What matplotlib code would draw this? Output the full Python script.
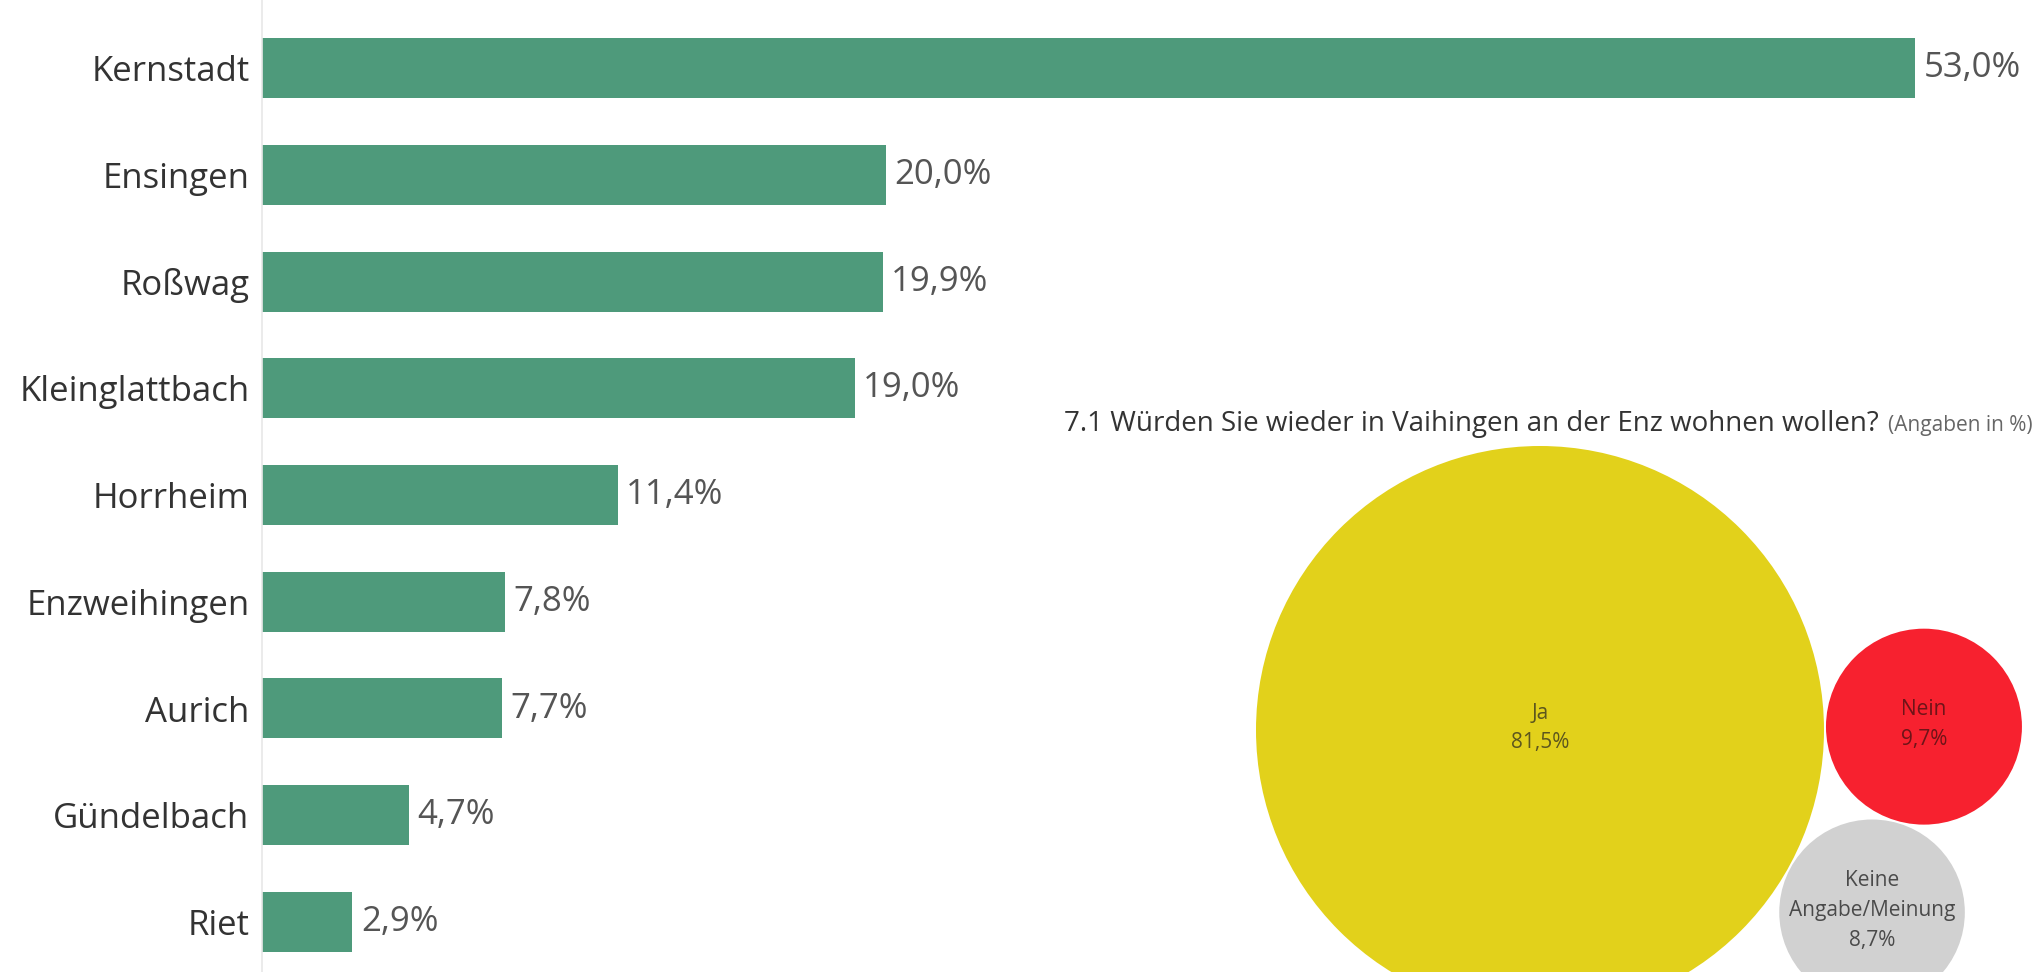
import numpy as np
import matplotlib
matplotlib.use("Agg")
import matplotlib.pyplot as plt
from matplotlib.patches import Circle

# ── Data ─────────────────────────────────────────────────────────────
districts = ["Kernstadt", "Ensingen", "Roßwag", "Kleinglattbach", "Horrheim",
             "Enzweihingen", "Aurich", "Gündelbach", "Riet"]
district_pct = [53.0, 20.0, 19.9, 19.0, 11.4, 7.8, 7.7, 4.7, 2.9]

answers = ["Ja", "Nein", "Keine\nAngabe/Meinung"]
answer_pct = [81.5, 9.7, 8.7]
answer_colors = ["#E2D11B", "#F7212F", "#D1D1D1"]
answer_text = ["#5C561E", "#6E1418", "#4A4A4A"]

title = "7.1 Würden Sie wieder in Vaihingen an der Enz wohnen wollen?"
subtitle = "(Angaben in %)"

# ── Style ────────────────────────────────────────────────────────────
plt.rcParams.update({
    "font.family": ["Open Sans", "DejaVu Sans"],
    "axes.spines.top": False,
    "axes.spines.right": False,
    "axes.spines.bottom": False,
})

W, H = 2033, 972
fig = plt.figure(figsize=(W / 100, H / 100), dpi=100)
fig.patch.set_facecolor("white")

def fmt(v):
    return f"{v:.1f}".replace(".", ",") + "%"

# ── Bar chart ────────────────────────────────────────────────────────
left_px = 262
px_per_pct = (1915 - left_px) / 53.0
row_px = 106.75
ax = fig.add_axes([left_px / W, 0, 1 - left_px / W, 1])
ax.set_facecolor("none")
y = np.arange(len(districts))
ax.barh(y, district_pct, height=60 / row_px, color="#4E9A7B")
ax.set_xlim(0, (W - left_px) / px_per_pct)
ax.set_ylim(len(districts) - 1 + 50 / row_px, -68 / row_px)
ax.set_yticks(y, districts)
ax.set_xticks([])
ax.tick_params(axis="y", length=0, pad=9, labelsize=25, labelcolor="#333333")
ax.spines["left"].set_color("#E8E8E8")
ax.spines["left"].set_linewidth(1.2)
for yi, v in zip(y, district_pct):
    ax.annotate(fmt(v), (v, yi), xytext=(6, 0), textcoords="offset points",
                va="center", ha="left", fontsize=25, color="#555555")

# ── Packed bubbles ───────────────────────────────────────────────────
axb = fig.add_axes([0, 0, 1, 1])
axb.set_xlim(0, W)
axb.set_ylim(H, 0)
axb.axis("off")
axb.set_facecolor("none")

k = 284 / np.sqrt(answer_pct[0])          # px per sqrt(%)
r = k * np.sqrt(answer_pct)
gap = 2
c0 = np.array([1540.0, 730.0])
th = np.deg2rad(-0.5)
u = np.array([np.cos(th), np.sin(th)])
c1 = c0 + (r[0] + r[1] + gap) * u
# third bubble tangent to both first ones, below them
a, b, d = r[0] + r[2] + gap, r[1] + r[2] + gap, r[0] + r[1] + gap
xa = (a**2 - b**2 + d**2) / (2 * d)
h = np.sqrt(a**2 - xa**2)
n = np.array([-u[1], u[0]])
c2 = c0 + xa * u + h * n
centers = [c0, c1, c2]

for c, rr, col, lab, v, tc in zip(centers, r, answer_colors, answers,
                                 answer_pct, answer_text):
    axb.add_patch(Circle(c, rr, color=col, lw=0))
    axb.text(c[0], c[1] - 2, f"{lab}\n{fmt(v)}", ha="center", va="center",
             fontsize=15, color=tc, linespacing=1.55)

t1 = fig.text(1064 / W, 1 - 424 / H, title, ha="left", va="center",
              fontsize=20, color="#333333")
fig.canvas.draw()
bb = t1.get_window_extent()
fig.text((bb.x1 + 9) / W, 1 - 426 / H, subtitle, ha="left", va="center",
         fontsize=15, color="#666666")

fig.savefig("out.png", dpi=100)
